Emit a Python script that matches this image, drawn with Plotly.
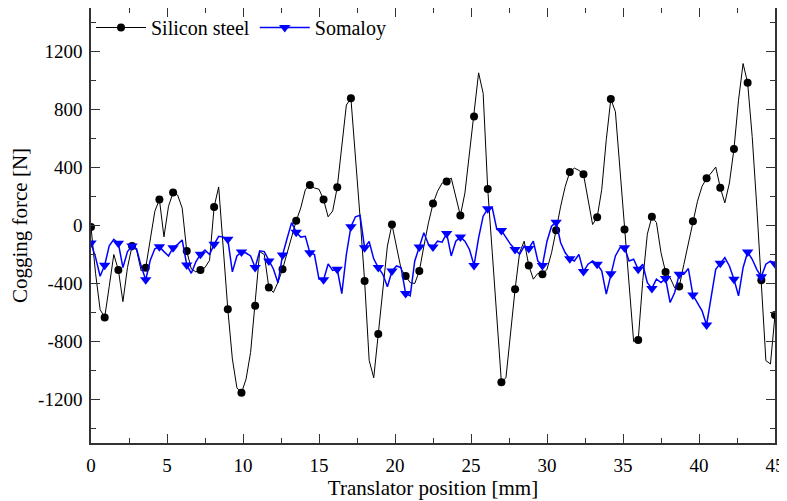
import plotly.graph_objects as go

# posição do translator [mm], passo de 0.3 mm
x_pos = [round(i * 0.3, 1) for i in range(151)]

silicon_steel = [
    -10, -330, -580, -634, -420, -200, -307, -525, -290, -142,
    -170, -313, -291, -96, 98, 179, -78, 133, 227, 210,
    120, -176, -300, -320, -307, -290, -240, 128, 266, -165,
    -577, -920, -1120, -1154, -1060, -875, -554, -180, -200, -428,
    -462, -392, -302, -186, -73, 32, 121, 247, 280, 259,
    250, 179, 60, 100, 263, 545, 831, 877, 480, 60,
    -382, -930, -1050, -749, -417, -142, 7, -150, -300, -348,
    -394, -400, -314, -142, 18, 151, 236, 293, 304, 327,
    201, 69, 224, 499, 751, 1053, 911, 252, -188, -646,
    -1081, -1050, -740, -440, -186, -108, -275, -370, -330, -337,
    -302, -188, -32, 133, 270, 369, 396, 380, 353, 179,
    7, 57, 247, 591, 872, 785, 385, -27, -370, -800,
    -790, -380, -60, 60, 20, -188, -320, -360, -430, -421,
    -270, -130, 30, 167, 270, 325, 362, 403, 261, 156,
    293, 527, 864, 1117, 984, 613, 133, -378, -932, -955,
    -618,
]

somaloy = [
    -120, -220, -350, -274, -140, -95, -123, -290, -180, -142,
    -160, -280, -375, -240, -160, -146, -180, -210, -153, -130,
    -100, -272, -330, -250, -199, -170, -200, -130, -75, -80,
    -95, -320, -210, -183, -190, -210, -290, -175, -180, -245,
    -300, -395, -204, -90, 20, -46, -80, -75, -188, -200,
    -370, -375, -265, -310, -302, -470, -200, -9, 60, 70,
    -153, -110, -230, -290, -336, -423, -314, -279, -290, -469,
    -485, -245, -149, -50, -130, -149, -108, -115, -55, -210,
    -108, -80, -108, -165, -275, -85, 64, 115, 121, -27,
    -34, -85, -130, -165, -199, -142, -158, -108, -245, -275,
    -108, -5, 23, -119, -188, -229, -245, -199, -318, -267,
    -245, -268, -313, -473, -332, -210, -153, -153, -245, -233,
    -302, -267, -394, -434, -370, -394, -366, -531, -462, -336,
    -336, -297, -480, -531, -588, -686, -508, -302, -261, -222,
    -279, -370, -485, -291, -183, -233, -302, -354, -267, -245,
    -263,
]

y_ticks = [-1200, -800, -400, 0, 400, 800, 1200]
y_labels = ['-1200', '-800', '-400', '0', '400', '800', '1200']

FONTE = 'Liberation Serif'

# marcador a cada 3 pontos (0.9 mm)
def cores_marcador(cor):
    return [cor if i % 3 == 0 else 'rgba(0,0,0,0)' for i in range(len(x_pos))]

fig = go.Figure()
fig.add_trace(go.Scatter(
    x=x_pos, y=silicon_steel, name='Silicon steel', mode='lines+markers',
    line=dict(color='black', width=1),
    marker=dict(symbol='circle', size=8, color=cores_marcador('black'), line=dict(width=0)),
))
fig.add_trace(go.Scatter(
    x=x_pos, y=somaloy, name='Somaloy', mode='lines+markers',
    line=dict(color='#0000ff', width=1.5),
    marker=dict(symbol='triangle-down', size=10, color=cores_marcador('#0000ff'), line=dict(width=0)),
))

eixo = dict(showline=True, linecolor='#333', linewidth=1.5, mirror='ticks',
            ticks='inside', ticklen=9, tickcolor='#333', tickwidth=1,
            showgrid=False, zeroline=False, automargin=False,
            tickfont=dict(family=FONTE, size=19, color='black'))

# a página tem 8 px de margem no body: figura um pouco menor para compensar
fig.update_layout(
    width=779, height=493,
    margin=dict(l=83, r=12, t=0, b=58),
    plot_bgcolor='white', paper_bgcolor='white',
    font=dict(family=FONTE, size=19, color='black'),
    xaxis=dict(eixo, range=[0, 45], tickmode='linear', tick0=0, dtick=5, ticklabelstandoff=4,
               minor=dict(tickmode='linear', tick0=0, dtick=2.5, ticks='inside', ticklen=5, tickcolor='#333'),
               title=dict(text='Translator position [mm]', font=dict(family=FONTE, size=21), standoff=2)),
    yaxis=dict(eixo, range=[-1500, 1500], tickmode='array', tickvals=y_ticks, ticktext=y_labels,
               ticklabelstandoff=3,
               minor=dict(tickmode='linear', tick0=0, dtick=200, ticks='inside', ticklen=5, tickcolor='#333'),
               title=dict(text='Cogging force [N]', font=dict(family=FONTE, size=21), standoff=8)),
    legend=dict(orientation='h', x=0.0, y=1.0, xanchor='left', yanchor='top',
                itemwidth=50, tracegroupgap=0,
                bgcolor='rgba(0,0,0,0)', font=dict(family=FONTE, size=20)),
    showlegend=True,
)

fig.write_html('out.html')
